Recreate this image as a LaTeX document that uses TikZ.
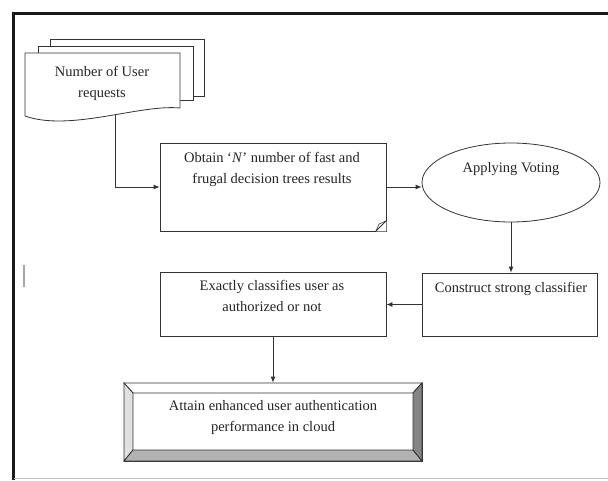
\documentclass[tikz,border=0pt]{standalone}
\usepackage{fontspec}
\setmainfont{Liberation Serif}
\usetikzlibrary{shapes.geometric,arrows.meta}
\begin{document}
\begin{tikzpicture}[x=1pt,y=-1pt,
  font=\fontsize{14.5}{21}\selectfont,
  line/.style={draw=black!80, line width=0.8pt},
  box/.style={line, fill=white, rectangle, inner sep=0pt},
  doc/.style={line, fill=white},
  txt/.style={align=center, inner sep=0pt, text=black!85},
  arr/.style={line, -{Latex[length=6pt,width=5pt]}}]
\fill[white] (0,0) rectangle (608,480);
\useasboundingbox (0,0) rectangle (608,480);
% frame
\draw[line width=3pt, black!90] (13,480) -- (13,13) -- (608,13);
\draw[black!25, line width=1pt] (14,478) -- (608,478);
\draw[black!35, line width=1.5pt] (24,265) -- (24,287);
% multi-document
\draw[doc] (50,39) rectangle (204,96);
\draw[doc] (38,46) rectangle (193,100);
\draw[doc] (25,53) -- (180,53) -- (180,108) .. controls (140,104) and (70,132) .. (25,116) -- cycle;
\coordinate (docb) at (115,115);
\node[txt] (t1) at (102,83) {Number of User\\requests};
% obtain box with folded corner
\node[box, minimum width=226pt, minimum height=88pt] (obtain) at (273,187) {};
\fill[white] (376,231.4) -- (386.4,231.4) -- (386.4,221) -- cycle;
\draw[line] (376,231) -- (386,221);
\draw[line, line width=0.6pt] (386,221) -- (379,224) -- (376,231);
\draw[line] (160,231) -- (376,231);
\draw[line] (386,143) -- (386,221);
\node[txt] (t2) at (272,169) {Obtain ‘\textit{N}’ number of fast and\\frugal decision trees results};
% voting
\node[ellipse, line, fill=white, minimum width=178pt, minimum height=79pt, inner sep=0pt] (voting) at (511,182.5) {};
\node[txt] (t3) at (511,169) {Applying Voting};
% construct
\node[box, minimum width=175pt, minimum height=63pt] (construct) at (509.5,304.5) {};
\node[txt] (t4) at (511,289) {Construct strong classifier};
% exactly
\node[box, minimum width=226pt, minimum height=64pt] (exact) at (273,304) {};
\node[txt] (t5) at (272,295.5) {Exactly classifies user as\\authorized or not};
% attain bevel
\node[box, minimum width=298pt, minimum height=78pt] (attain) at (273,422) {};
\filldraw[line, fill=white] (124,383) -- (422,383) -- (413,393) -- (133,393) -- cycle;
\filldraw[line, fill=black!12] (124,383) -- (133,393) -- (133,450) -- (124,461) -- cycle;
\filldraw[line, fill=black!30] (124,461) -- (133,450) -- (413,450) -- (422,461) -- cycle;
\filldraw[line, fill=black!48] (422,383) -- (422,461) -- (413,450) -- (413,393) -- cycle;
\node[txt] (t6) at (273,417.5) {Attain enhanced user authentication\\performance in cloud};
% connectors
\draw[arr] (docb) |- (obtain.west);
\draw[arr] (obtain.east) -- (obtain.east -| voting.west);
\draw[arr] (voting.south) -- (voting.south |- construct.north);
\draw[arr] (construct.west) -- (construct.west -| exact.east);
\draw[arr] (exact.south) -- (exact.south |- attain.north);
\end{tikzpicture}
\end{document}
